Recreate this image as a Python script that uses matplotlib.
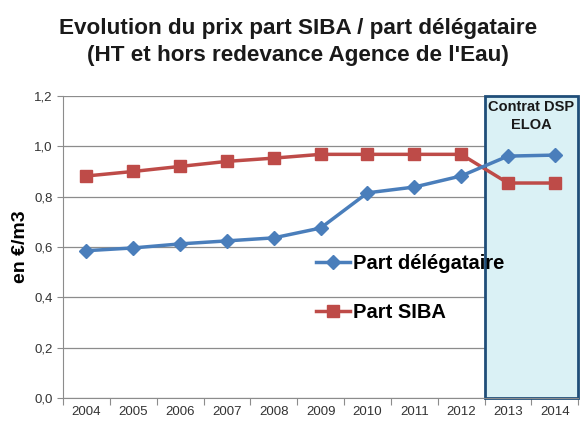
import matplotlib.pyplot as plt
from matplotlib.patches import Rectangle
import numpy as np

plt.rcParams['font.family'] = ['Liberation Sans', 'DejaVu Sans']

years = ['2004', '2005', '2006', '2007', '2008', '2009', '2010', '2011', '2012', '2013', '2014']
part_delegataire = [0.585, 0.596, 0.612, 0.624, 0.636, 0.675, 0.815, 0.838, 0.882, 0.961, 0.965]
part_siba = [0.882, 0.900, 0.920, 0.940, 0.953, 0.968, 0.968, 0.968, 0.968, 0.854, 0.854]
y_ticks = [0.0, 0.2, 0.4, 0.6, 0.8, 1.0, 1.2]

fig = plt.figure(figsize=(5.84, 4.21), dpi=100)
ax = fig.add_axes([0.108, 0.055, 0.882, 0.717])

x = np.arange(len(years))

# shaded DSP contract period
ax.add_patch(Rectangle((8.5, 0), 2.0, 1.2, facecolor='#DAF1F5', edgecolor='#1F4E79',
                       linewidth=2, zorder=1, clip_on=False))
ax.text(9.5, 1.185, "Contrat DSP\nELOA", ha='center', va='top', fontsize=10.5,
        fontweight='bold', color='#1a1a1a', zorder=5, linespacing=1.35)

ax.plot(x, part_delegataire, color='#4A7EBB', lw=2.5, marker='D', ms=7,
        label='Part délégataire', zorder=4)
ax.plot(x, part_siba, color='#BE4B48', lw=2.5, marker='s', ms=8.5,
        label='Part SIBA', zorder=3)

ax.set_xlim(-0.5, 10.5)
ax.set_ylim(0, 1.2)

ax.set_yticks(y_ticks)
ax.set_yticklabels([f"{v:.1f}".replace('.', ',') for v in y_ticks], fontsize=9.5, color='#333333')
ax.yaxis.grid(True, color='#8c8c8c', lw=0.9, zorder=0)
ax.set_axisbelow(True)

ax.set_xticks(np.arange(-0.5, 11, 1))
ax.set_xticklabels([])
ax.set_xticks(x, minor=True)
ax.set_xticklabels(years, minor=True, fontsize=9.5, color='#333333')
ax.tick_params(axis='x', which='major', length=5, color='#8c8c8c')
ax.tick_params(axis='x', which='minor', length=0, pad=6)
ax.tick_params(axis='y', length=4, color='#8c8c8c')

for s in ['top', 'right']:
    ax.spines[s].set_visible(False)
for s in ['left', 'bottom']:
    ax.spines[s].set_color('#8c8c8c')

ax.set_ylabel("en €/m3", fontsize=14, fontweight='bold', labelpad=4)

leg = ax.legend(loc='upper left', bbox_to_anchor=(0.455, 0.535), frameon=False,
                prop={'size': 14.5, 'weight': 'bold'}, handlelength=1.7,
                handletextpad=0.15, labelspacing=1.45)
leg.set_zorder(6)

fig.text(0.51, 0.957, "Evolution du prix part SIBA / part délégataire\n(HT et hors redevance Agence de l'Eau)",
         ha='center', va='top', fontsize=16.2, fontweight='bold', color='#1a1a1a', linespacing=1.35)

fig.savefig('out.png', dpi=100)
